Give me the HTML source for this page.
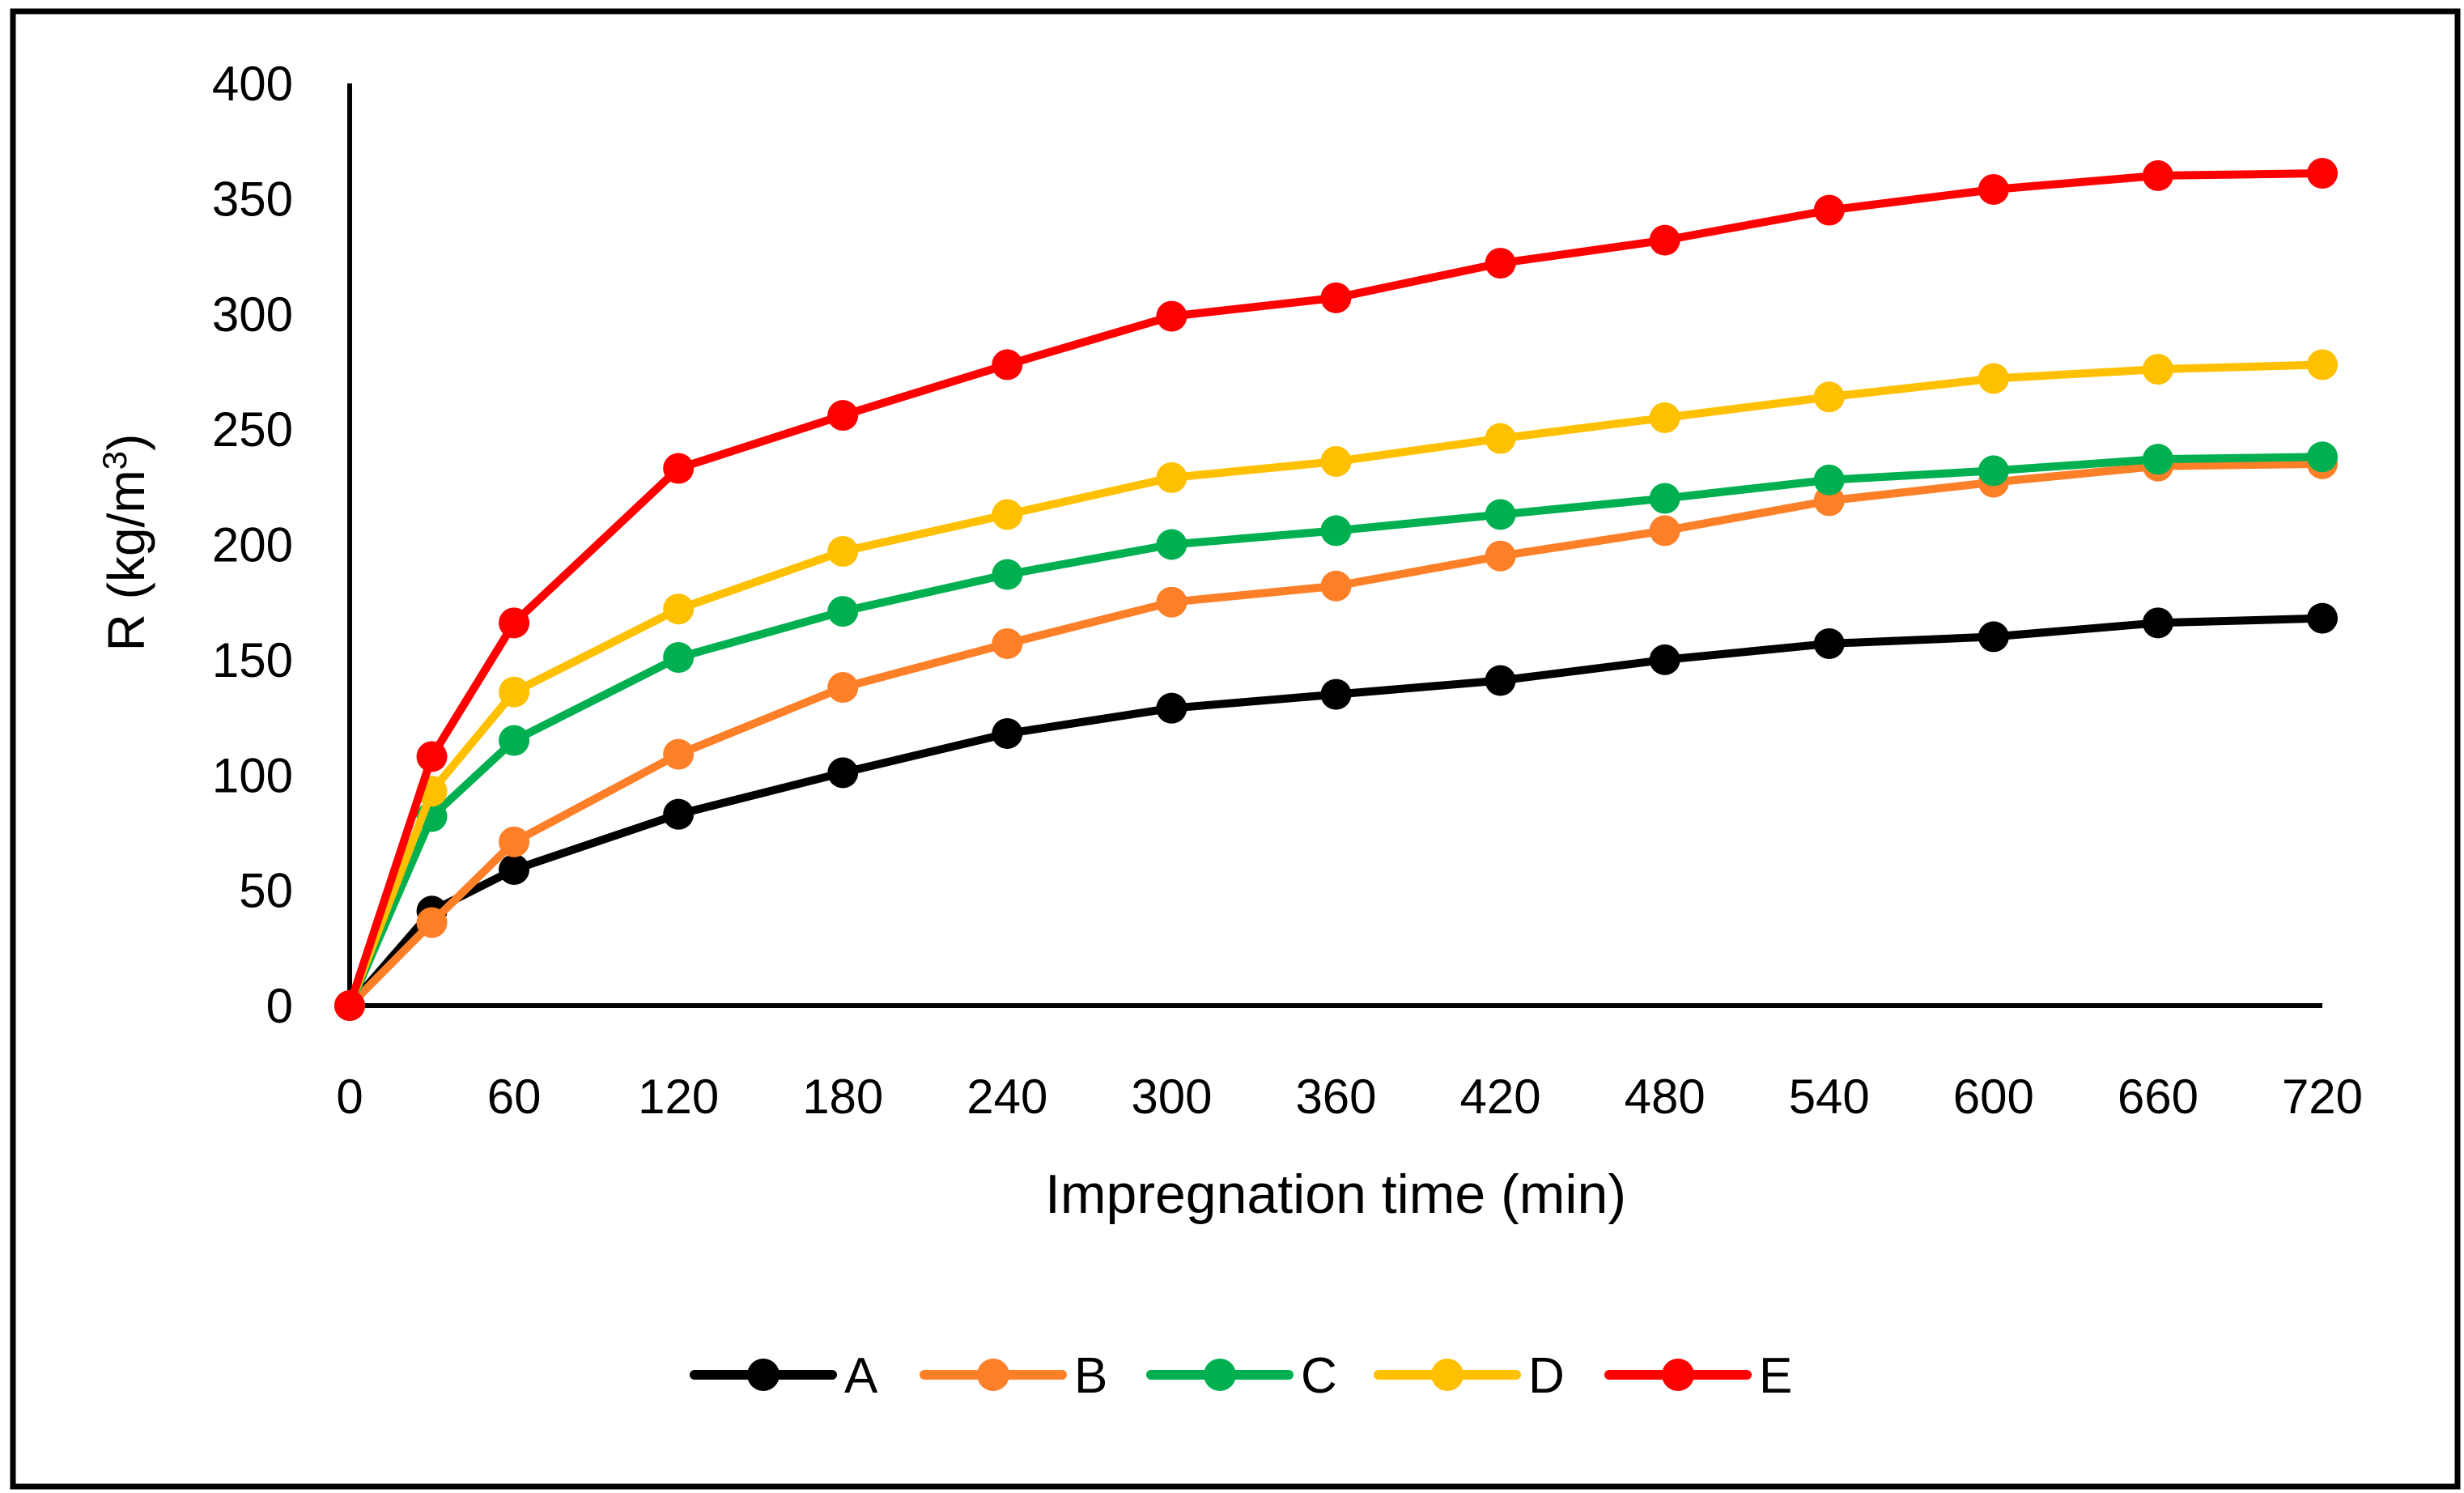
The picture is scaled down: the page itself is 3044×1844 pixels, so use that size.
<!DOCTYPE html>
<html><head><meta charset="utf-8"><style>
html,body{margin:0;padding:0;background:#fff;}
svg{display:block;font-family:"Liberation Sans",sans-serif;}
</style></head><body>
<svg id="chart" width="3044" height="1844" viewBox="0 0 3044 1844" xmlns="http://www.w3.org/2000/svg">
<rect x="16" y="14" width="3020" height="1822" fill="#fff" stroke="#000" stroke-width="7"/>
<g id="grid"></g>
<g id="series"></g>
<g id="legend"></g>
<text x="178" y="670" font-size="64" text-anchor="middle" transform="rotate(-90 178 670)">R (kg/m<tspan dy="-22" font-size="42">3</tspan><tspan dy="22">)</tspan></text>
<text x="1650" y="1498" font-size="68" text-anchor="middle">Impregnation time (min)</text>
</svg>
<script>
const xValues=[0,30,60,120,180,240,300,360,420,480,540,600,660,720];
const seriesA=[0,41,59,83,101,118,129,135,141,150,157,160,166,168];
const seriesB=[0,36,71,109,138,157,175,182,195,206,219,227,234,235];
const seriesC=[0,82,115,151,171,187,200,206,213,220,228,232,237,238];
const seriesD=[0,93,136,172,197,213,229,236,246,255,264,272,276,278];
const seriesE=[0,108,166,233,256,278,299,307,322,332,345,354,360,361];
const seriesNames=["A","B","C","D","E"];
const xTicks=[0,60,120,180,240,300,360,420,480,540,600,660,720];
const yTicks=[0,50,100,150,200,250,300,350,400];
const colors=["#000000","#FD7F28","#00B050","#FFC000","#FF0000"];
const NS="http://www.w3.org/2000/svg";
const X0=432,X1=2869,Y0=1242,Y1=103;
const sx=v=>X0+(v-0)/(720-0)*(X1-X0);
const sy=v=>Y0-(v-0)/(400-0)*(Y0-Y1);
function mk(tag,attrs,parent){const e=document.createElementNS(NS,tag);for(const k in attrs)e.setAttribute(k,attrs[k]);parent.appendChild(e);return e;}
const grid=document.getElementById('grid');
let ax=mk('line',{x1:X0,y1:sy(400),x2:X0,y2:Y0,stroke:'#000','stroke-width':6},grid);


let bx=mk('line',{x1:X0,y1:Y0,x2:X1,y2:Y0,stroke:'#000','stroke-width':6},grid);


yTicks.forEach(t=>{const e=mk('text',{x:362,y:sy(t)+21,'font-size':60,'text-anchor':'end'},grid);e.textContent=t;

});
xTicks.forEach(t=>{const e=mk('text',{x:sx(t),y:1375,'font-size':60,'text-anchor':'middle'},grid);e.textContent=t;

});
const all=[seriesA,seriesB,seriesC,seriesD,seriesE];
const sg=document.getElementById('series');
all.forEach((s,i)=>{
 const g=mk('g',{},sg);
 
 
 const pts=s.map((v,j)=>sx(xValues[j])+','+sy(v)).join(' ');
 const pl=mk('polyline',{points:pts,fill:'none',stroke:colors[i],'stroke-width':10,'stroke-linejoin':'round'},g);
 
 
 s.forEach((v,j)=>{const c=mk('circle',{cx:sx(xValues[j]),cy:sy(v),r:19,fill:colors[i]},g);
 
 });
});
const lg=document.getElementById('legend');
const lx=[858,1142,1422,1703,1988];
seriesNames.forEach((n,i)=>{
 const g=mk('g',{},lg);
 
 
 mk('line',{x1:lx[i],y1:1698,x2:lx[i]+170,y2:1698,stroke:colors[i],'stroke-width':12,'stroke-linecap':'round'},g);
 mk('circle',{cx:lx[i]+85,cy:1698,r:20,fill:colors[i]},g);
 const t=mk('text',{x:lx[i]+185,y:1720,'font-size':62},g);t.textContent=n;
});
</script>
</body></html>
